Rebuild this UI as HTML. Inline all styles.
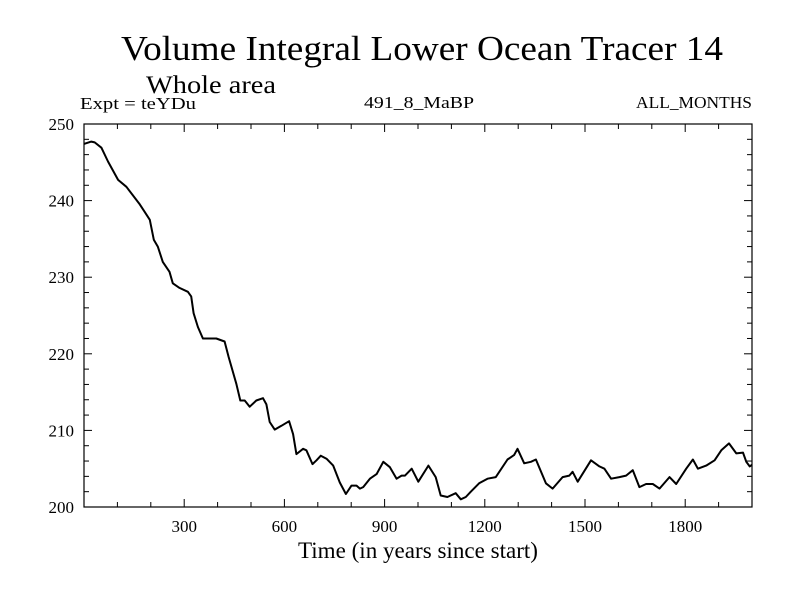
<!DOCTYPE html>
<html><head><meta charset="utf-8"><style>
body{margin:0;background:#fff}
svg{display:block;font-family:"Liberation Serif",serif}
</style></head><body>
<svg id="chart" width="800" height="600">
<text x="121" y="60" font-size="35" textLength="602" lengthAdjust="spacingAndGlyphs">Volume Integral Lower Ocean Tracer 14</text>
<text x="146" y="93" font-size="25" textLength="130" lengthAdjust="spacingAndGlyphs">Whole area</text>
<text x="80" y="109" font-size="17" textLength="116" lengthAdjust="spacingAndGlyphs">Expt = teYDu</text>
<text x="364" y="108" font-size="17" textLength="110" lengthAdjust="spacingAndGlyphs">491_8_MaBP</text>
<text x="636" y="108" font-size="17" textLength="116" lengthAdjust="spacingAndGlyphs">ALL_MONTHS</text>
<text x="298" y="558" font-size="23" textLength="240" lengthAdjust="spacingAndGlyphs">Time (in years since start)</text>
<g id="axes"></g>
<path id="line" fill="none" stroke="#000" stroke-width="2" stroke-linejoin="round"/>
<rect x="84" y="124" width="668" height="383" fill="none" stroke="#000" stroke-width="1.2"/>
</svg>
<script>
const years=[0,22,32,52,72,102,127,167,182,197,209,221,236,256,266,286,311,321,328,341,356,396,421,433,456,468,481,496,516,536,546,556,571,591,614,626,636,656,666,684,696,709,726,746,766,784,801,816,826,836,856,876,896,916,936,951,961,981,1001,1031,1053,1068,1088,1113,1128,1143,1158,1183,1208,1233,1268,1288,1298,1318,1338,1353,1383,1403,1433,1453,1463,1478,1518,1543,1558,1578,1603,1623,1643,1663,1683,1703,1723,1753,1773,1803,1823,1838,1863,1888,1908,1931,1953,1973,1983,1993,2000];
const values=[247.4,247.7,247.6,246.9,245.1,242.7,241.8,239.5,238.5,237.5,234.9,234.0,232.0,230.7,229.2,228.6,228.1,227.5,225.3,223.5,222.0,222.0,221.6,219.6,216.1,213.9,213.9,213.1,213.9,214.2,213.4,211.1,210.1,210.6,211.2,209.5,206.9,207.6,207.4,205.6,206.1,206.7,206.3,205.4,203.2,201.7,202.8,202.8,202.4,202.6,203.7,204.3,205.9,205.2,203.7,204.1,204.1,205.0,203.3,205.4,203.9,201.5,201.3,201.8,201.0,201.3,202.0,203.1,203.7,203.9,206.2,206.8,207.6,205.7,205.9,206.2,203.1,202.4,203.9,204.1,204.6,203.3,206.1,205.3,205.0,203.7,203.9,204.1,204.8,202.6,203.0,203.0,202.4,203.9,203.0,205.0,206.2,205.0,205.4,206.1,207.4,208.3,207.0,207.1,205.9,205.3,205.5];
const xTicks=[300,600,900,1200,1500,1800];
const yTicks=[200,210,220,230,240,250];
const X0=84,X1=752,Y0=507,Y1=124;
const xs=v=>X0+(v-0)/2000*(X1-X0);
const ys=v=>Y0-(v-200)/50*(Y0-Y1);
const ns="http://www.w3.org/2000/svg";
const g=document.getElementById('axes');
function ln(x1,y1,x2,y2,name){const l=document.createElementNS(ns,'line');l.setAttribute('x1',x1);l.setAttribute('y1',y1);l.setAttribute('x2',x2);l.setAttribute('y2',y2);l.setAttribute('stroke','#000');


g.appendChild(l);}
function tx(x,y,s,anchor,name){const t=document.createElementNS(ns,'text');t.setAttribute('x',x);t.setAttribute('y',y);t.setAttribute('font-size','17');t.setAttribute('text-anchor',anchor);t.textContent=s;


g.appendChild(t);}
for(let v=100;v<2000;v+=100){const maj=v%300===0;const L=maj?8:5;ln(xs(v),Y0,xs(v),Y0-L,'x-tick');ln(xs(v),Y1,xs(v),Y1+L,'x-tick-top');}
for(let v=202;v<250;v+=2){const maj=v%10===0;const L=maj?8:5;ln(X0,ys(v),X0+L,ys(v),'y-tick');ln(X1,ys(v),X1-L,ys(v),'y-tick-right');}
xTicks.forEach(v=>tx(xs(v),532,String(v),'middle','x-tick-label'));
yTicks.forEach(v=>tx(74,ys(v)+6,String(v),'end','y-tick-label'));
document.getElementById('line').setAttribute('d',years.map((y,i)=>(i?'L':'M')+xs(y).toFixed(1)+','+ys(values[i]).toFixed(1)).join(''));
</script>
</body></html>
